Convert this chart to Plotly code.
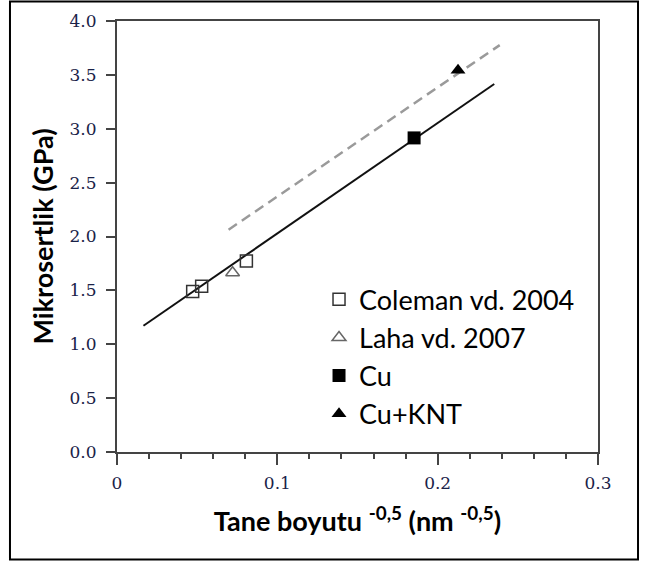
import plotly.graph_objects as go

# ---- data ----
coleman_x = [0.0472, 0.0528, 0.0807]
coleman_y = [1.489, 1.539, 1.773]
laha_x = [0.0721]
laha_y = [1.663]
cu_x = [0.1853]
cu_y = [2.915]
cuknt_x = [0.2127]
cuknt_y = [3.543]
fit_cu_x = [0.0165, 0.2353]
fit_cu_y = [1.172, 3.415]
fit_knt_x = [0.0696, 0.2387]
fit_knt_y = [2.063, 3.776]

x_tickvals = [0, 0.1, 0.2, 0.3]
x_ticktext = ["0", "0.1", "0.2", "0.3"]
y_tickvals = [0, 0.5, 1.0, 1.5, 2.0, 2.5, 3.0, 3.5, 4.0]
y_ticktext = ["0.0", "0.5", "1.0", "1.5", "2.0", "2.5", "3.0", "3.5", "4.0"]

fig = go.Figure()

fig.add_trace(go.Scatter(x=fit_knt_x, y=fit_knt_y, mode="lines",
                         line=dict(color="#9a9a9a", width=2.5, dash="10px,6px"),
                         showlegend=False, hoverinfo="skip"))
fig.add_trace(go.Scatter(x=fit_cu_x, y=fit_cu_y, mode="lines",
                         line=dict(color="#111111", width=2),
                         showlegend=False, hoverinfo="skip"))

fig.add_trace(go.Scatter(x=coleman_x, y=coleman_y, mode="markers", name="Coleman vd. 2004",
                         marker=dict(symbol="square-open", size=12, color="#333333",
                                     line=dict(width=1.5))))
fig.add_trace(go.Scatter(x=laha_x, y=laha_y, mode="markers", name="Laha vd. 2007",
                         marker=dict(symbol="triangle-up-open", size=12, color="#666666",
                                     line=dict(width=1.5))))
fig.add_trace(go.Scatter(x=cu_x, y=cu_y, mode="markers", name="Cu",
                         marker=dict(symbol="square", size=13, color="#000000")))
fig.add_trace(go.Scatter(x=cuknt_x, y=cuknt_y, mode="markers", name="Cu+KNT",
                         marker=dict(symbol="triangle-up", size=13, color="#000000")))

tick_font = dict(family="DejaVu Serif", size=17, color="#1a2248")
title_font = dict(family="Lato", size=27, color="#000000")

fig.update_layout(
    width=648, height=563,
    margin=dict(l=117, r=50, t=21, b=111),
    paper_bgcolor="white", plot_bgcolor="white",
    showlegend=True,
    legend=dict(x=0.42, y=0.41, xanchor="left", yanchor="top",
                font=dict(family="Lato", size=27, color="#000000"),
                bgcolor="rgba(0,0,0,0)", itemwidth=30, tracegroupgap=0),
    xaxis=dict(range=[0, 0.3], tickvals=x_tickvals, ticktext=x_ticktext,
               ticks="outside", ticklen=11, tickwidth=1.5, tickcolor="#444444",
               showline=True, linecolor="#444444", linewidth=2, mirror=True,
               showgrid=False, zeroline=False, tickfont=tick_font, ticklabelstandoff=4,
               minor=dict(dtick=0.02, tick0=0, ticks="outside", ticklen=5,
                          tickwidth=1.5, tickcolor="#444444", showgrid=False),
               title=dict(text="<b>Tane boyutu <sup>-0,5</sup> (nm <sup>-0,5</sup>)</b>",
                          font=title_font, standoff=20)),
    yaxis=dict(range=[0, 4.0], tickvals=y_tickvals, ticktext=y_ticktext,
               ticks="outside", ticklen=9, tickwidth=1.5, tickcolor="#444444",
               showline=True, linecolor="#444444", linewidth=2, mirror=True,
               showgrid=False, zeroline=False, tickfont=tick_font, ticklabelstandoff=6,
               title=dict(text="<b>Mikrosertlik (GPa)</b>", font=title_font, standoff=8)),
    shapes=[dict(type="rect", xref="paper", yref="paper",
                 x0=-0.2225, x1=1.0832, y0=-0.2494, y1=1.0453,
                 line=dict(color="#000000", width=2), fillcolor="rgba(0,0,0,0)")],
)

fig.write_html("out.html")
